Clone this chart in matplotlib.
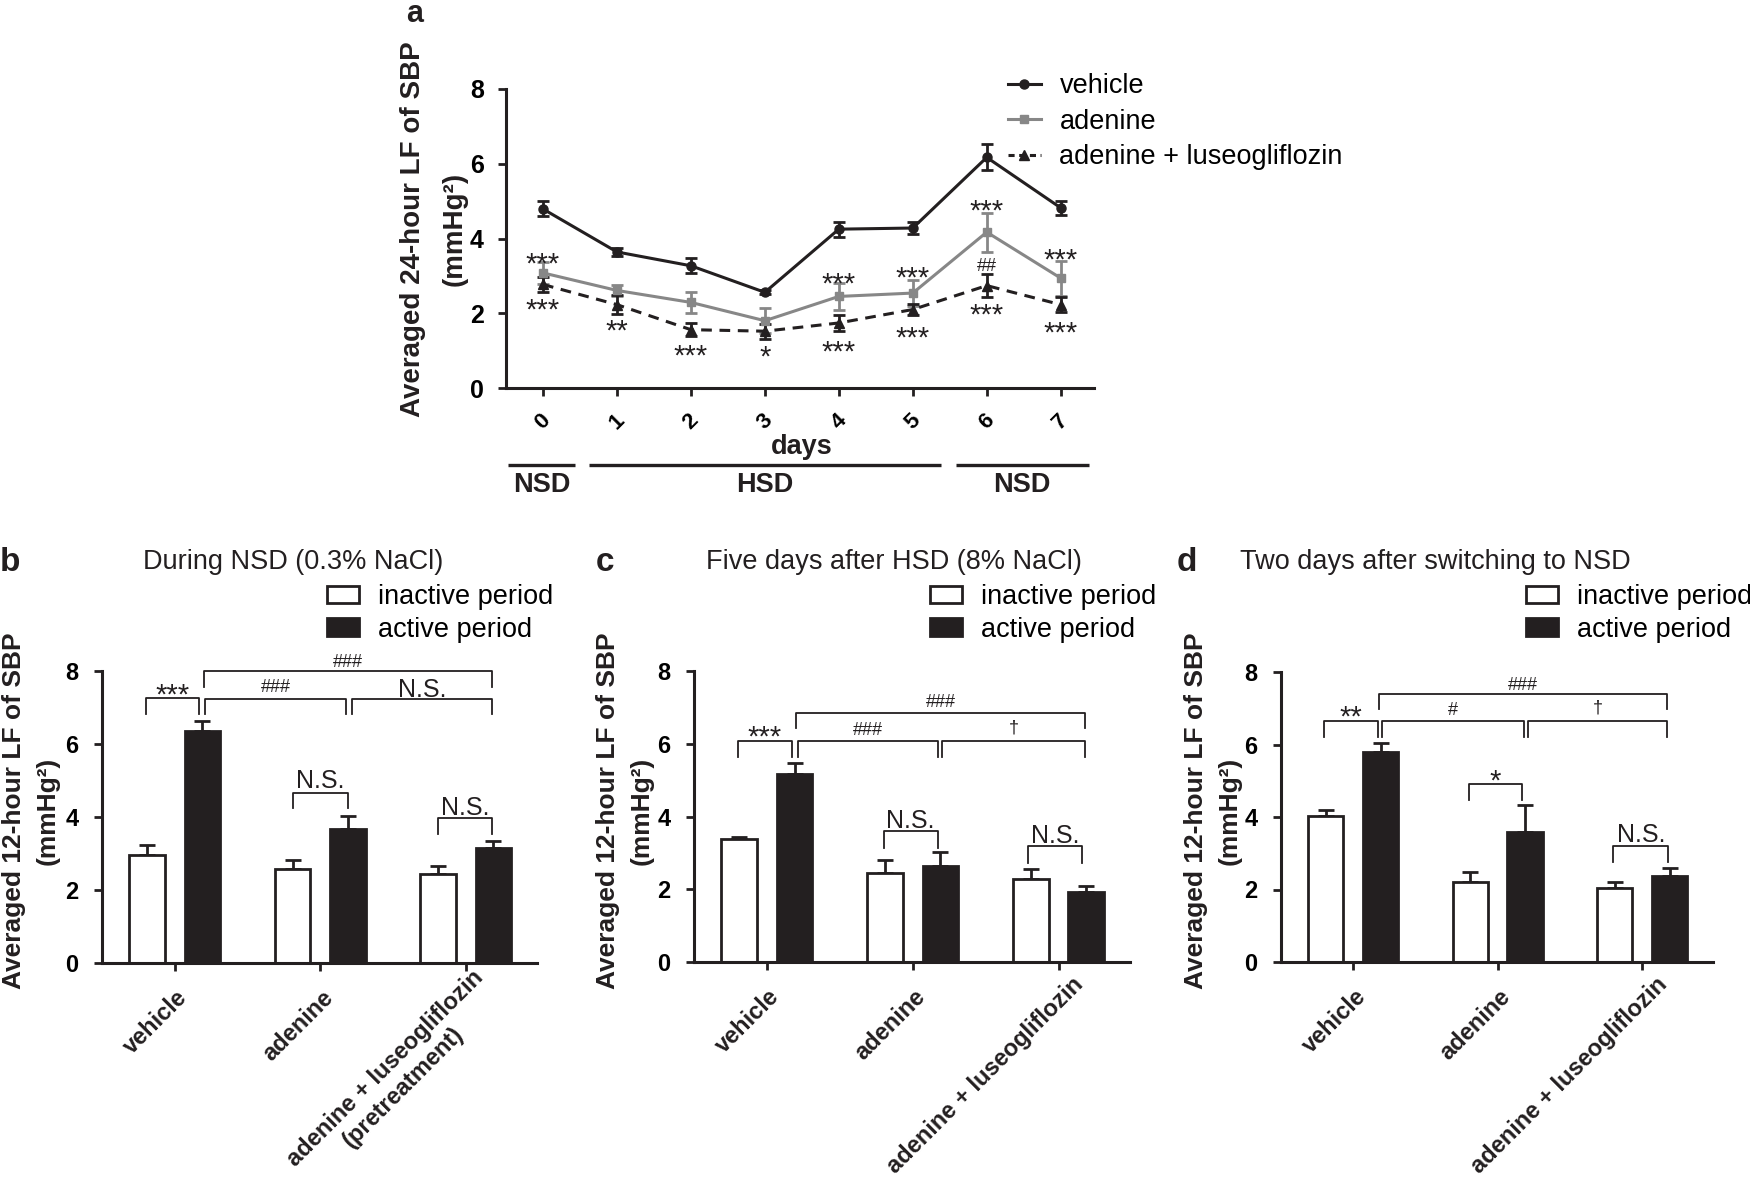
import matplotlib
matplotlib.use('Agg')
import matplotlib.pyplot as plt
from matplotlib.lines import Line2D
from matplotlib.patches import Patch
from matplotlib.font_manager import FontProperties
import matplotlib.transforms as mtransforms
import numpy as np

plt.rcParams['font.family'] = ['Liberation Sans', 'DejaVu Sans']

W, H = 1750, 1178
K = '#231f20'
GRAY = '#878787'

# ---- panel a data (24-hour LF of SBP)
days = [0, 1, 2, 3, 4, 5, 6, 7]
veh = [4.79, 3.64, 3.27, 2.56, 4.25, 4.28, 6.17, 4.82]
veh_err = [0.20, 0.10, 0.20, 0.05, 0.20, 0.15, 0.35, 0.18]
ade = [3.08, 2.61, 2.29, 1.80, 2.45, 2.54, 4.17, 2.94]
ade_err = [0.30, 0.15, 0.27, 0.34, 0.36, 0.35, 0.52, 0.47]
lus = [2.77, 2.23, 1.56, 1.52, 1.74, 2.10, 2.74, 2.23]
lus_err = [0.20, 0.25, 0.17, 0.20, 0.22, 0.15, 0.30, 0.20]
series_names = ['vehicle', 'adenine', 'adenine + luseogliflozin']

# significance marks in panel a: (day, y, text)
marks_a = [(0, 3.57, '***'), (4, 3.03, '***'), (5, 3.18, '***'), (6, 4.98, '***'),
           (7, 3.68, '***'), (6, 3.30, '##'),
           (0, 2.32, '***'), (1, 1.78, '**'), (2, 1.11, '***'), (3, 1.07, '*'),
           (4, 1.20, '***'), (5, 1.59, '***'), (6, 2.20, '***'), (7, 1.72, '***')]

# diet periods under the x axis: (start, end, label)
periods = [(-0.47, 0.43, 'NSD'), (0.62, 5.38, 'HSD'), (5.58, 7.38, 'NSD')]

# ---- panels b-d data (12-hour LF of SBP)
groups = ['vehicle', 'adenine', 'adenine + luseogliflozin']
groups_b = ['vehicle', 'adenine', 'adenine + luseogliflozin\n(pretreatment)']
b_inact = [2.96, 2.57, 2.43]
b_inact_err = [0.26, 0.25, 0.22]
b_act = [6.36, 3.68, 3.16]
b_act_err = [0.28, 0.36, 0.18]

c_inact = [3.37, 2.46, 2.29]
c_inact_err = [0.07, 0.34, 0.28]
c_act = [5.16, 2.64, 1.92]
c_act_err = [0.31, 0.39, 0.16]

d_inact = [4.02, 2.22, 2.03]
d_inact_err = [0.17, 0.25, 0.17]
d_act = [5.78, 3.59, 2.38]
d_act_err = [0.25, 0.74, 0.20]

# brackets: (x1, x2, y_top, y_leg, text, y_text)
b_brackets = [(-0.20, 0.17, 7.26, 6.81, '***', 7.60),
              (0.20, 2.18, 8.00, 7.57, '###', 8.28),
              (0.21, 1.18, 7.24, 6.81, '###', 7.60),
              (1.22, 2.18, 7.24, 6.81, 'N.S.', 7.55),
              (0.81, 1.19, 4.66, 4.24, 'N.S.', 5.06),
              (1.81, 2.18, 3.96, 3.53, 'N.S.', 4.32)]
c_brackets = [(-0.20, 0.17, 6.08, 5.64, '***', 6.43),
              (0.20, 2.18, 6.85, 6.43, '###', 7.18),
              (0.21, 1.17, 6.08, 5.64, '###', 6.43),
              (1.20, 2.18, 6.08, 5.64, '\u2020', 6.43),
              (0.80, 1.17, 3.60, 3.14, 'N.S.', 3.94),
              (1.79, 2.16, 3.18, 2.72, 'N.S.', 3.52)]
d_brackets = [(-0.20, 0.17, 6.66, 6.20, '**', 7.00),
              (0.18, 2.17, 7.40, 6.98, '###', 7.69),
              (0.20, 1.18, 6.66, 6.20, '#', 7.00),
              (1.21, 2.17, 6.66, 6.20, '\u2020', 7.00),
              (0.80, 1.17, 4.91, 4.48, '*', 5.25),
              (1.80, 2.18, 3.21, 2.76, 'N.S.', 3.56)]


def box(l, t, r, b):
    return [l / W, 1 - b / H, (r - l) / W, (b - t) / H]


def fx(px):
    return px / W


def fy(py):
    return 1 - py / H


def mark(ax, x, y, s):
    # put the visible glyphs centred on (x, y)
    if '*' in s:
        fs, dy = 21, -7.0
    elif '#' in s:
        fs, dy = 13, -1.5
    elif s == '\u2020':
        fs, dy = 13, 0
    else:
        fs, dy = 18, -1.8
    ax.annotate(s, (x, y), xytext=(0, dy), textcoords='offset points',
                ha='center', va='center', fontsize=fs, color=K, annotation_clip=False)


def style_axes(ax):
    for s in ['top', 'right']:
        ax.spines[s].set_visible(False)
    for s in ['left', 'bottom']:
        ax.spines[s].set_linewidth(2.2)
        ax.spines[s].set_color(K)
    ax.tick_params(width=2, length=6, color=K)


fig = plt.figure(figsize=(W / 100, H / 100), dpi=100)
renderer = fig.canvas.get_renderer()
label_font = FontProperties(family=['Liberation Sans', 'DejaVu Sans'], weight='bold', size=17)

# ================= panel a
ax = fig.add_axes(box(506, 89, 1094, 388))
ekw = dict(capsize=4, capthick=2, elinewidth=2, lw=2.2)
ax.errorbar(days, veh, yerr=veh_err, color=K, marker='o', ms=6.5, **ekw)
ax.errorbar(days, ade, yerr=ade_err, color=GRAY, marker='s', ms=6, **ekw)
ax.errorbar(days, lus, yerr=lus_err, color=K, marker='^', ms=7, ls='--', dashes=(3.5, 2.5), **ekw)
ax.set_xlim(-0.5, 7.45)
ax.set_ylim(0, 8)
ax.set_yticks([0, 2, 4, 6, 8])
ax.set_xticks(days)
ax.set_xticklabels([str(d) for d in days], rotation=45, ha='center', fontweight='bold', fontsize=16)
for t in ax.get_yticklabels():
    t.set_fontweight('bold')
    t.set_fontsize(18)
style_axes(ax)
ax.tick_params(axis='y', pad=10)
ax.tick_params(axis='x', pad=10)
for x, y, s in marks_a:
    mark(ax, x, y, s)

handles = [Line2D([], [], color=K, marker='o', ms=6.5, lw=2.2),
           Line2D([], [], color=GRAY, marker='s', ms=6, lw=2.2),
           Line2D([], [], color=K, marker='^', ms=7, lw=2.2, ls='--', dashes=(2, 1.5))]
ax.legend(handles, series_names, loc='upper left', bbox_to_anchor=(fx(1008), fy(73)),
          bbox_transform=fig.transFigure, frameon=False, fontsize=19.5, borderpad=0,
          borderaxespad=0, handlelength=1.2, handletextpad=0.7, labelspacing=0.36)

tr = mtransforms.blended_transform_factory(ax.transData, fig.transFigure)
for x0, x1, lab in periods:
    ax.plot([x0, x1], [fy(465), fy(465)], color=K, lw=2.4, transform=tr, clip_on=False,
            solid_capstyle='butt')
    ax.text((x0 + x1) / 2, fy(485), lab, transform=tr, ha='center', va='center',
            fontsize=19.5, fontweight='bold', color=K)
ax.text(3.5, fy(447), 'days', transform=tr, ha='center', va='center',
        fontsize=19.5, fontweight='bold', color=K)

fig.text(fx(434), fy(229), 'Averaged 24-hour LF of SBP\n(mmHg\u00b2)', rotation=90,
         ha='center', va='center', multialignment='center', fontsize=20,
         fontweight='bold', color=K, linespacing=1.75)
fig.text(fx(415), fy(22), 'a', ha='center', va='baseline', fontsize=22, fontweight='bold', color=K)


# ================= panels b-d
def group_label(ax, i, lab, dx, dy):
    # rotated group name; the end of the first line sits just below the tick,
    # following lines are centred under it
    base = mtransforms.blended_transform_factory(ax.transData, ax.transAxes)
    lines = lab.split('\n')
    if len(lines) == 1:
        t = base + mtransforms.ScaledTranslation(dx / 100, -dy / 100, fig.dpi_scale_trans)
        ax.text(i, 0, lab, transform=t, rotation=45, rotation_mode='anchor',
                ha='right', va='top', fontproperties=label_font, color=K)
        return
    w0 = renderer.get_text_width_height_descent(lines[0], label_font, ismath=False)[0]
    cx = dx - 0.7071 * w0 / 2
    cy = dy + 0.7071 * w0 / 2
    sep = 26
    for k, line in enumerate(lines):
        ox = cx + k * sep * 0.7071
        oy = cy + k * sep * 0.7071
        t = base + mtransforms.ScaledTranslation(ox / 100, -oy / 100, fig.dpi_scale_trans)
        ax.text(i, 0, line, transform=t, rotation=45, rotation_mode='anchor',
                ha='center', va='top', fontproperties=label_font, color=K)


def bar_panel(rect, inact, inact_err, act, act_err, labels, label_offsets, brackets):
    ax = fig.add_axes(rect)
    x = np.arange(len(inact))
    w, off = 0.245, 0.19
    ax.errorbar(x - off, inact, yerr=[np.zeros(3), inact_err], fmt='none', ecolor=K,
                elinewidth=2, capsize=5.5, capthick=2, zorder=1)
    ax.errorbar(x + off, act, yerr=[np.zeros(3), act_err], fmt='none', ecolor=K,
                elinewidth=2, capsize=5.5, capthick=2, zorder=1)
    ax.bar(x - off, inact, w, color='white', edgecolor=K, lw=2, zorder=2)
    ax.bar(x + off, act, w, color=K, edgecolor=K, lw=2, zorder=2)
    ax.set_xlim(-0.5, 2.49)
    ax.set_ylim(0, 8)
    ax.set_yticks([0, 2, 4, 6, 8])
    ax.set_xticks(x)
    ax.set_xticklabels([])
    for t in ax.get_yticklabels():
        t.set_fontweight('bold')
        t.set_fontsize(17)
    style_axes(ax)
    ax.tick_params(axis='y', pad=11)
    for i, (lab, (dx, dy)) in enumerate(zip(labels, label_offsets)):
        group_label(ax, i, lab, dx, dy)
    for x1, x2, yt, yl, s, ys in brackets:
        ax.plot([x1, x1, x2, x2], [yl, yt, yt, yl], color=K, lw=1.3, clip_on=False)
        mark(ax, (x1 + x2) / 2, ys, s)
    hs = [Patch(facecolor='white', edgecolor=K, lw=2), Patch(facecolor=K, edgecolor=K, lw=2)]
    return ax, hs


off_1line = [(1, 23), (1, 23), (13, 11)]
off_2line = [(1, 23), (1, 23), (6, 3)]

panels = [
    (box(102, 671, 537, 963), b_inact, b_inact_err, b_act, b_act_err,
     groups_b, off_2line, b_brackets, 'b', 10, 'During NSD (0.3% NaCl)', 293, 327, 31),
    (box(694, 671, 1130, 962), c_inact, c_inact_err, c_act, c_act_err,
     groups, off_1line, c_brackets, 'c', 605, 'Five days after HSD (8% NaCl)', 894, 930, 625),
    (box(1281, 672, 1713, 962), d_inact, d_inact_err, d_act, d_act_err,
     groups, off_1line, d_brackets, 'd', 1187, 'Two days after switching to NSD', 1435, 1526, 1213),
]

for rect, ia, iae, ac, ace, labs, loffs, brs, letter, lx, title, tx, legx, ylx in panels:
    ax, hs = bar_panel(rect, ia, iae, ac, ace, labs, loffs, brs)
    ax.legend(hs, ['inactive period', 'active period'], loc='upper left',
              bbox_to_anchor=(fx(legx), fy(584)), bbox_transform=fig.transFigure,
              frameon=False, fontsize=19.5, borderpad=0, borderaxespad=0,
              handlelength=1.19, handleheight=0.63, handletextpad=0.7, labelspacing=0.25)
    fig.text(fx(lx), fy(571), letter, ha='center', va='baseline', fontsize=24,
             fontweight='bold', color=K)
    fig.text(fx(tx), fy(569), title, ha='center', va='baseline', fontsize=19.5, color=K)
    fig.text(fx(ylx), fy(811), 'Averaged 12-hour LF of SBP\n(mmHg\u00b2)', rotation=90,
             ha='center', va='center', multialignment='center', fontsize=19,
             fontweight='bold', color=K, linespacing=1.5)

fig.savefig('out.png', dpi=100)
